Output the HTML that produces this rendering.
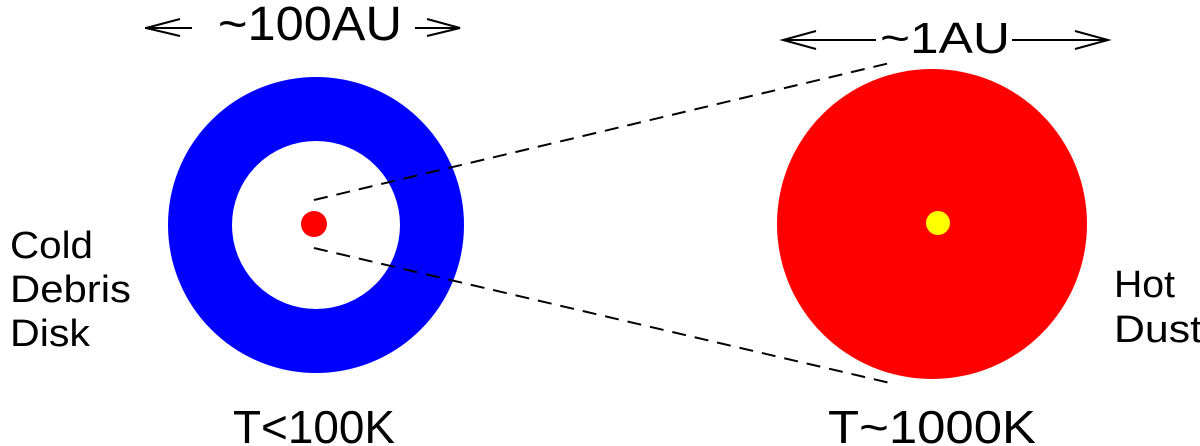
<!DOCTYPE html>
<html><head><style>body{margin:0;background:#fff}svg{display:block}</style></head>
<body>
<svg width="1200" height="446" viewBox="0 0 1200 446" xmlns="http://www.w3.org/2000/svg" font-family="Liberation Sans, sans-serif">
<circle cx="316" cy="225" r="116" fill="none" stroke="#0000ff" stroke-width="64"/>
<circle cx="314" cy="224" r="13" fill="#ff0000"/>
<circle cx="932" cy="224" r="155" fill="#ff0000"/>
<circle cx="938" cy="223" r="12" fill="#ffff00"/>
<g stroke="#000" stroke-width="2" stroke-dasharray="14,9" fill="none">
<line x1="314" y1="200" x2="890" y2="63"/>
<line x1="314" y1="248" x2="890" y2="383"/>
</g>
<g stroke="#000" stroke-width="2" fill="none">
<line x1="145" y1="28" x2="192" y2="28"/><polyline points="180,19 146,28 180,36"/>
<line x1="415" y1="28" x2="460" y2="28"/><polyline points="427,19 460,28 427,36"/>
<line x1="783" y1="40" x2="876" y2="40"/><polyline points="816,31 783,40 816,49"/>
<line x1="1012" y1="40" x2="1108" y2="40"/><polyline points="1075,31 1108,40 1075,49"/>
</g>
<g fill="#000">
<text x="218" y="40" font-size="48" textLength="184" lengthAdjust="spacingAndGlyphs">~100AU</text>
<text x="880" y="53" font-size="44" textLength="130" lengthAdjust="spacingAndGlyphs">~1AU</text>
<text x="233" y="443" font-size="46" textLength="162" lengthAdjust="spacingAndGlyphs">T&lt;100K</text>
<text x="828" y="443" font-size="46" textLength="208" lengthAdjust="spacingAndGlyphs">T~1000K</text>
<text x="10" y="258" font-size="38" textLength="83" lengthAdjust="spacingAndGlyphs">Cold</text>
<text x="10" y="302" font-size="38" textLength="121" lengthAdjust="spacingAndGlyphs">Debris</text>
<text x="10" y="346" font-size="38" textLength="80" lengthAdjust="spacingAndGlyphs">Disk</text>
<text x="1114" y="297" font-size="38" textLength="61" lengthAdjust="spacingAndGlyphs">Hot</text>
<text x="1114" y="342" font-size="38" textLength="88" lengthAdjust="spacingAndGlyphs">Dust</text>
</g>
</svg>
</body></html>
